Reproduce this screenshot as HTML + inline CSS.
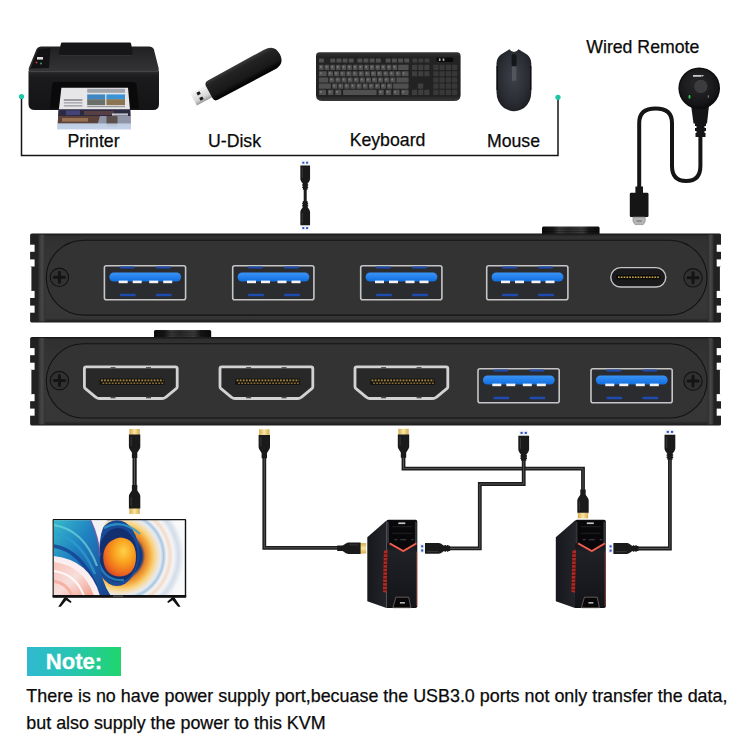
<!DOCTYPE html>
<html><head><meta charset="utf-8"><title>KVM switch connection diagram</title>
<style>
html,body{margin:0;padding:0;background:#fff;}
body{width:750px;height:750px;overflow:hidden;position:relative;font-family:"Liberation Sans",Arial,sans-serif;}
svg{position:absolute;left:0;top:0;display:block}
.lbl{font-family:"Liberation Sans",Arial,sans-serif;font-size:17.7px;fill:#0a0a0a;stroke:#0a0a0a;stroke-width:0.25px}
.note{position:absolute;left:26.5px;top:647.4px;width:94.6px;height:28.8px;background:linear-gradient(90deg,#2fb9d2 0%,#28c4b4 45%,#1fd56c 100%);color:#fff;font-weight:bold;font-size:22.1px;line-height:28.8px;}
.note span{position:absolute;left:19.2px;top:1.1px;-webkit-text-stroke:0.3px #fff}
.txt{position:absolute;left:26.3px;top:682.6px;font-size:17.9px;line-height:27.2px;color:#0a0a0a;-webkit-text-stroke:0.25px #0a0a0a;white-space:nowrap;margin:0}
</style></head><body>
<svg width="750" height="750" viewBox="0 0 750 750">
<defs>
<linearGradient id="gBody" x1="0" y1="0" x2="0" y2="1">
<stop offset="0" stop-color="#161616"/><stop offset="0.03" stop-color="#303030"/><stop offset="0.5" stop-color="#383838"/><stop offset="0.95" stop-color="#363636"/><stop offset="1" stop-color="#1a1a1a"/>
</linearGradient>
<linearGradient id="gBtn" x1="0" y1="0" x2="1" y2="0"><stop offset="0" stop-color="#0c0c0c"/><stop offset="0.18" stop-color="#161616"/><stop offset="0.3" stop-color="#3a3a3a"/><stop offset="0.45" stop-color="#2a2a2a"/><stop offset="0.7" stop-color="#3c3c3c"/><stop offset="0.82" stop-color="#161616"/><stop offset="1" stop-color="#0c0c0c"/></linearGradient>
<linearGradient id="gStripL" x1="0" y1="0" x2="1" y2="0">
<stop offset="0" stop-color="#2a2a2a"/><stop offset="0.5" stop-color="#4a4a4a"/><stop offset="1" stop-color="#303030"/>
</linearGradient>
<linearGradient id="gBlue" x1="0" y1="0" x2="0" y2="1">
<stop offset="0" stop-color="#3b93f5"/><stop offset="1" stop-color="#0f6fe0"/>
</linearGradient>
<linearGradient id="gGold" x1="0" y1="0" x2="1" y2="0">
<stop offset="0" stop-color="#d6ac4e"/><stop offset="0.5" stop-color="#f8e6a6"/><stop offset="1" stop-color="#d6ac4e"/>
</linearGradient>
<linearGradient id="gGoldV" x1="0" y1="0" x2="0" y2="1">
<stop offset="0" stop-color="#d6ac4e"/><stop offset="0.5" stop-color="#f8e6a6"/><stop offset="1" stop-color="#d6ac4e"/>
</linearGradient>
<!-- USB-A port (83 x 36) -->
<g id="usbport">
<rect x="0.7" y="0.7" width="81.2" height="34" rx="2" fill="#2b2c30" stroke="#c6c6c6" stroke-width="1.6"/>
<rect x="16" y="1.6" width="15" height="2" rx="1" fill="#1d4bb0"/>
<rect x="52" y="1.6" width="15" height="2" rx="1" fill="#1d4bb0"/>
<rect x="5.6" y="7.4" width="71.8" height="9.2" rx="4.6" fill="url(#gBlue)"/>
<rect x="15" y="15.6" width="9" height="2.6" fill="#f2f2f2"/>
<rect x="29" y="15.6" width="9" height="2.6" fill="#f2f2f2"/>
<rect x="45.5" y="15.6" width="9" height="2.6" fill="#f2f2f2"/>
<rect x="59.5" y="15.6" width="9" height="2.6" fill="#f2f2f2"/>
<rect x="16" y="28.8" width="16" height="2.4" rx="1" fill="#1d4bb0"/>
<rect x="52" y="28.8" width="16" height="2.4" rx="1" fill="#1d4bb0"/>
</g>
<!-- HDMI port (96 x 36) -->
<g id="hdmiport">
<path d="M3.2,1.4 H92.4 Q94.2,1.4 94.2,3.2 V21.2 Q94.2,22.4 93.2,23.2 L82.6,31.8 Q81.2,33 79.2,33 H16.4 Q14.4,33 13,31.8 L2.4,23.2 Q1.4,22.4 1.4,21.2 V3.2 Q1.4,1.4 3.2,1.4 Z" fill="#282828" stroke="#d2d2d2" stroke-width="2.8" stroke-linejoin="round"/>
<rect x="27.5" y="1.6" width="5" height="1.6" fill="#4a4a4a"/><rect x="63" y="1.6" width="5" height="1.6" fill="#4a4a4a"/>
<rect x="27.5" y="31.2" width="5" height="1.6" fill="#4a4a4a"/><rect x="63" y="31.2" width="5" height="1.6" fill="#4a4a4a"/>
<rect x="16.5" y="13" width="65" height="6.6" rx="1.5" fill="#141414"/>
<line x1="18" y1="14.8" x2="80.5" y2="14.8" stroke="#a8893a" stroke-width="1.7" stroke-dasharray="1.8 1.3"/>
<line x1="19.5" y1="17.7" x2="80.5" y2="17.7" stroke="#8a7030" stroke-width="1.5" stroke-dasharray="1.8 1.3"/>
</g>
<!-- screw -->
<g id="screw">
<circle r="9.2" fill="#313131" stroke="#121212" stroke-width="1.1"/>
<path d="M-5,0 H5 M0,-5 V5" stroke="#141414" stroke-width="3" stroke-linecap="round"/>
</g>
<!-- HDMI plug, vertical, tip up at y=0, centered x=0; total length ~28 -->
<g id="hdmiplug">
<rect x="-5.2" y="0" width="10.4" height="6.2" fill="url(#gGold)"/>
<path d="M-5.7,5.6 H5.7 V17.5 Q5.7,19 4.9,20.3 L2.7,23.6 V29 H-2.7 V23.6 L-4.9,20.3 Q-5.7,19 -5.7,17.5 Z" fill="#1a1a1a"/>
<path d="M-3.4,8 V17" stroke="#383838" stroke-width="1"/>
</g>
<!-- USB-A plug vertical, tip up -->
<g id="usbplug">
<rect x="-4.6" y="0" width="9.2" height="6" fill="#f1f3f7"/>
<rect x="-3.2" y="1.6" width="2.2" height="2" fill="#2a55c8"/><rect x="1" y="1.6" width="2.2" height="2" fill="#2a55c8"/>
<path d="M-5.4,5.4 H5.4 V19 Q5.4,20.4 4.6,21.6 L2.6,24.4 V30.5 H-2.6 V24.4 L-4.6,21.6 Q-5.4,20.4 -5.4,19 Z" fill="#1a1a1a"/>
<path d="M-3.3,25.6 H3.3 M-3.3,28 H3.3" stroke="#1a1a1a" stroke-width="1.5"/>
<path d="M-3.2,7.5 V18.5" stroke="#3a3a3a" stroke-width="1"/>
</g>
</defs>
<g id="bracket">
<path d="M21.5,97 V155.5 H558 V97.5" fill="none" stroke="#141414" stroke-width="1.5"/>
<circle cx="21.5" cy="96.5" r="2.6" fill="#1cc6a4"/><circle cx="558" cy="97.3" r="2.6" fill="#1cc6a4"/>
</g>
<g id="labels">
<text class="lbl" x="93.5" y="146.8" text-anchor="middle">Printer</text>
<text class="lbl" x="234.5" y="146.8" text-anchor="middle">U-Disk</text>
<text class="lbl" x="387.5" y="146.1" text-anchor="middle">Keyboard</text>
<text class="lbl" x="513.5" y="146.9" text-anchor="middle">Mouse</text>
<text class="lbl" x="642.8" y="52.8" text-anchor="middle">Wired Remote</text>
</g>
<g id="printer">
<defs>
<linearGradient id="prTop" x1="0" y1="0" x2="0" y2="1"><stop offset="0" stop-color="#202022"/><stop offset="1" stop-color="#353537"/></linearGradient>
<linearGradient id="prFront" x1="0" y1="0" x2="0" y2="1"><stop offset="0" stop-color="#2a2a2c"/><stop offset="0.15" stop-color="#1b1b1d"/><stop offset="1" stop-color="#141416"/></linearGradient>
<linearGradient id="prPhoto" x1="0" y1="0" x2="0" y2="1"><stop offset="0" stop-color="#26243c"/><stop offset="0.35" stop-color="#6a4a3e"/><stop offset="0.6" stop-color="#8d93a8"/><stop offset="1" stop-color="#c9d4e6"/></linearGradient>
</defs>
<!-- top surface -->
<path d="M41,46.5 Q38,46.5 36.6,49 L28.8,68 Q28,71.5 31,72 H156.5 Q159.5,71.5 158.6,68 L153.8,49 Q152.6,46.5 149.5,46.5 Z" fill="url(#prTop)"/>
<!-- lid -->
<path d="M62.5,42.6 H129.5 Q131,42.6 131.2,44 L132.6,53 Q132.8,55.2 130.5,55.2 H60.5 Q58.5,55.2 58.8,53 L60.8,44 Q61,42.6 62.5,42.6 Z" fill="#161618"/>
<path d="M60,55.6 H131.5" stroke="#3a3a3c" stroke-width="0.8"/>
<!-- control panel -->
<path d="M38.5,49 L50.5,48 L49,68 L30.5,68.5 Z" fill="#121214"/>
<rect x="37" y="57" width="6" height="2.6" fill="#d8d8d8"/>
<circle cx="36.5" cy="62.5" r="0.9" fill="#d04040"/><circle cx="41" cy="63.5" r="0.9" fill="#30b080"/>
<!-- front -->
<path d="M28.5,71 H159 V104 Q159,110 153,110 H35 Q28.5,110 28.5,104 Z" fill="url(#prFront)"/>
<path d="M29,71.6 H158.5" stroke="#48484b" stroke-width="1"/>
<!-- slot -->
<path d="M55,82 H133 Q136,82 136.5,85 L139,108.5 H50 L52,85 Q52.4,82 55,82 Z" fill="#0a0a0b"/>
<!-- paper 1 -->
<path d="M61.4,87.8 H128 L130,110 H58.8 Z" fill="#e6e6e9"/>
<rect x="87.2" y="88.8" width="37.8" height="4" fill="#8a8e96" opacity="0.75"/>
<rect x="87.2" y="94.4" width="18" height="5" fill="#3f86c4"/><rect x="87.2" y="99.2" width="18" height="6" fill="#6a6f6a"/>
<rect x="106.4" y="94.4" width="18.6" height="5" fill="#3a93d6"/><rect x="106.4" y="99.2" width="18.6" height="6" fill="#8a7452"/>
<rect x="87.2" y="106" width="37.8" height="1.2" fill="#9a9aa0"/>
<rect x="63.8" y="99.2" width="18.6" height="1.6" fill="#8a8a90"/><rect x="63.8" y="102.2" width="18.6" height="1.3" fill="#a0a0a6"/><rect x="63.8" y="105.2" width="18.6" height="1.3" fill="#9a9aa0"/>
<!-- paper 2 (photo) -->
<path d="M58.6,109.4 H130.2 L131,129.2 H57.2 Z" fill="url(#prPhoto)"/>
<path d="M58.6,109.4 H130.2 L130.5,116 H58.2 Z" fill="#2c2a40"/>
<rect x="66" y="110.5" width="14" height="4.5" fill="#5a5aa8" opacity="0.55"/>
<rect x="84" y="111" width="30" height="4" fill="#6a4a44" opacity="0.7"/>
<rect x="112" y="113.4" width="16" height="2.2" fill="#e8e8ee" opacity="0.8"/>
<path d="M58.2,116 H100 L98,123.5 H57.8 Z" fill="#5c4238"/>
<rect x="62" y="118" width="26" height="3.6" fill="#c89868" opacity="0.55"/>
<path d="M100,116 H130.5 L130.8,123.5 H98 Z" fill="#8f94a6"/>
<rect x="106.5" y="116" width="11" height="10.5" fill="#4a3a30" opacity="0.75"/>
<path d="M57.8,123.5 H130.8 L131,129.2 H57.2 Z" fill="#c3d2e8" opacity="0.9"/>
</g>
<g id="udisk" transform="translate(244.8,73) rotate(-28.4)">
<defs>
<linearGradient id="udBody" x1="0" y1="0" x2="0" y2="1"><stop offset="0" stop-color="#3c3c3c"/><stop offset="0.2" stop-color="#232323"/><stop offset="0.7" stop-color="#191919"/><stop offset="0.85" stop-color="#0a0a0a"/><stop offset="1" stop-color="#000"/></linearGradient>
<linearGradient id="udMetal" x1="0" y1="0" x2="0" y2="1"><stop offset="0" stop-color="#f6f6f6"/><stop offset="0.7" stop-color="#d6d6d6"/><stop offset="1" stop-color="#9a9a9a"/></linearGradient>
</defs>
<rect x="-57.6" y="-7.9" width="20" height="13.6" fill="url(#udMetal)"/>
<rect x="-52" y="-5.6" width="3.4" height="3" fill="#1a1a1a"/><rect x="-52" y="0.4" width="3.4" height="3" fill="#1a1a1a"/>
<path d="M-36,-11 L28,-11.4 Q39.8,-11.4 39.8,0 Q39.8,11.2 28,11.2 L-36,10.8 Q-40.4,10.8 -40.4,6.6 V-6.8 Q-40.4,-11 -36,-11 Z" fill="url(#udBody)"/>
</g>
<g id="keyboard">
<defs><linearGradient id="kbBody" x1="0" y1="0" x2="0" y2="1"><stop offset="0" stop-color="#343434"/><stop offset="0.1" stop-color="#232323"/><stop offset="0.9" stop-color="#222"/><stop offset="1" stop-color="#3a3a3a"/></linearGradient></defs>
<path d="M319.5,52.3 H457 Q460.6,52.3 460.6,56 V95 Q460.6,101 454,101 H322.5 Q316,101 316,95 V56 Q316,52.3 319.5,52.3 Z" fill="url(#kbBody)"/>
<rect x="319.0" y="58.4" width="4.9" height="4.1" rx="0.6" fill="#505050"/>
<rect x="330.3" y="58.4" width="4.9" height="4.1" rx="0.6" fill="#505050"/>
<rect x="336.5" y="58.4" width="4.9" height="4.1" rx="0.6" fill="#505050"/>
<rect x="342.6" y="58.4" width="4.9" height="4.1" rx="0.6" fill="#505050"/>
<rect x="348.8" y="58.4" width="4.9" height="4.1" rx="0.6" fill="#505050"/>
<rect x="357.4" y="58.4" width="4.9" height="4.1" rx="0.6" fill="#505050"/>
<rect x="363.5" y="58.4" width="4.9" height="4.1" rx="0.6" fill="#505050"/>
<rect x="369.7" y="58.4" width="4.9" height="4.1" rx="0.6" fill="#505050"/>
<rect x="375.9" y="58.4" width="4.9" height="4.1" rx="0.6" fill="#505050"/>
<rect x="385.7" y="58.4" width="4.9" height="4.1" rx="0.6" fill="#505050"/>
<rect x="391.9" y="58.4" width="4.9" height="4.1" rx="0.6" fill="#505050"/>
<rect x="398.1" y="58.4" width="4.9" height="4.1" rx="0.6" fill="#505050"/>
<rect x="404.3" y="58.4" width="4.9" height="4.1" rx="0.6" fill="#505050"/>
<rect x="412.4" y="58.4" width="4.8" height="4.1" rx="0.6" fill="#3e3e3e"/>
<rect x="418.5" y="58.4" width="4.8" height="4.1" rx="0.6" fill="#3e3e3e"/>
<rect x="424.6" y="58.4" width="4.8" height="4.1" rx="0.6" fill="#3e3e3e"/>
<rect x="319.0" y="64.8" width="4.6" height="5.1" rx="0.6" fill="#505050"/>
<rect x="324.6" y="64.8" width="4.6" height="5.1" rx="0.6" fill="#505050"/>
<rect x="330.3" y="64.8" width="4.6" height="5.1" rx="0.6" fill="#505050"/>
<rect x="335.9" y="64.8" width="4.6" height="5.1" rx="0.6" fill="#505050"/>
<rect x="341.6" y="64.8" width="4.6" height="5.1" rx="0.6" fill="#505050"/>
<rect x="347.2" y="64.8" width="4.6" height="5.1" rx="0.6" fill="#505050"/>
<rect x="352.9" y="64.8" width="4.6" height="5.1" rx="0.6" fill="#505050"/>
<rect x="358.5" y="64.8" width="4.6" height="5.1" rx="0.6" fill="#505050"/>
<rect x="364.2" y="64.8" width="4.6" height="5.1" rx="0.6" fill="#505050"/>
<rect x="369.8" y="64.8" width="4.6" height="5.1" rx="0.6" fill="#505050"/>
<rect x="375.5" y="64.8" width="4.6" height="5.1" rx="0.6" fill="#505050"/>
<rect x="381.1" y="64.8" width="4.6" height="5.1" rx="0.6" fill="#505050"/>
<rect x="386.8" y="64.8" width="4.6" height="5.1" rx="0.6" fill="#505050"/>
<rect x="392.5" y="64.8" width="4.6" height="5.1" rx="0.6" fill="#505050"/>
<rect x="398.1" y="64.8" width="10.5" height="5.1" rx="0.6" fill="#505050"/>
<rect x="319.0" y="71.2" width="7.7" height="5.1" rx="0.6" fill="#505050"/>
<rect x="327.9" y="71.2" width="5.1" height="5.1" rx="0.6" fill="#505050"/>
<rect x="334.1" y="71.2" width="5.1" height="5.1" rx="0.6" fill="#505050"/>
<rect x="340.2" y="71.2" width="5.1" height="5.1" rx="0.6" fill="#505050"/>
<rect x="346.4" y="71.2" width="5.1" height="5.1" rx="0.6" fill="#505050"/>
<rect x="352.5" y="71.2" width="5.1" height="5.1" rx="0.6" fill="#505050"/>
<rect x="358.7" y="71.2" width="5.1" height="5.1" rx="0.6" fill="#505050"/>
<rect x="364.8" y="71.2" width="5.1" height="5.1" rx="0.6" fill="#505050"/>
<rect x="371.0" y="71.2" width="5.1" height="5.1" rx="0.6" fill="#505050"/>
<rect x="377.1" y="71.2" width="5.1" height="5.1" rx="0.6" fill="#505050"/>
<rect x="383.3" y="71.2" width="5.1" height="5.1" rx="0.6" fill="#505050"/>
<rect x="389.4" y="71.2" width="5.1" height="5.1" rx="0.6" fill="#505050"/>
<rect x="395.6" y="71.2" width="5.1" height="5.1" rx="0.6" fill="#505050"/>
<rect x="401.7" y="71.2" width="6.8" height="5.1" rx="0.6" fill="#505050"/>
<rect x="319.0" y="77.4" width="9.2" height="5.1" rx="0.6" fill="#505050"/>
<rect x="329.4" y="77.4" width="5.0" height="5.1" rx="0.6" fill="#505050"/>
<rect x="335.5" y="77.4" width="5.0" height="5.1" rx="0.6" fill="#505050"/>
<rect x="341.6" y="77.4" width="5.0" height="5.1" rx="0.6" fill="#505050"/>
<rect x="347.7" y="77.4" width="5.0" height="5.1" rx="0.6" fill="#505050"/>
<rect x="353.8" y="77.4" width="5.0" height="5.1" rx="0.6" fill="#505050"/>
<rect x="359.9" y="77.4" width="5.0" height="5.1" rx="0.6" fill="#505050"/>
<rect x="366.0" y="77.4" width="5.0" height="5.1" rx="0.6" fill="#505050"/>
<rect x="372.0" y="77.4" width="5.0" height="5.1" rx="0.6" fill="#505050"/>
<rect x="378.1" y="77.4" width="5.0" height="5.1" rx="0.6" fill="#505050"/>
<rect x="384.2" y="77.4" width="5.0" height="5.1" rx="0.6" fill="#505050"/>
<rect x="390.3" y="77.4" width="5.0" height="5.1" rx="0.6" fill="#505050"/>
<rect x="396.4" y="77.4" width="12.2" height="5.1" rx="0.6" fill="#505050"/>
<rect x="319.0" y="83.6" width="11.9" height="5.1" rx="0.6" fill="#505050"/>
<rect x="332.2" y="83.6" width="5.0" height="5.1" rx="0.6" fill="#505050"/>
<rect x="338.3" y="83.6" width="5.0" height="5.1" rx="0.6" fill="#505050"/>
<rect x="344.4" y="83.6" width="5.0" height="5.1" rx="0.6" fill="#505050"/>
<rect x="350.5" y="83.6" width="5.0" height="5.1" rx="0.6" fill="#505050"/>
<rect x="356.6" y="83.6" width="5.0" height="5.1" rx="0.6" fill="#505050"/>
<rect x="362.7" y="83.6" width="5.0" height="5.1" rx="0.6" fill="#505050"/>
<rect x="368.8" y="83.6" width="5.0" height="5.1" rx="0.6" fill="#505050"/>
<rect x="374.9" y="83.6" width="5.0" height="5.1" rx="0.6" fill="#505050"/>
<rect x="381.0" y="83.6" width="5.0" height="5.1" rx="0.6" fill="#505050"/>
<rect x="387.1" y="83.6" width="5.0" height="5.1" rx="0.6" fill="#505050"/>
<rect x="393.2" y="83.6" width="15.4" height="5.1" rx="0.6" fill="#505050"/>
<rect x="319.0" y="89.8" width="7.0" height="5.1" rx="0.6" fill="#505050"/>
<rect x="327.9" y="89.8" width="5.5" height="5.1" rx="0.6" fill="#505050"/>
<rect x="335.2" y="89.8" width="6.0" height="5.1" rx="0.6" fill="#505050"/>
<rect x="343.1" y="89.8" width="33.5" height="5.1" rx="0.6" fill="#505050"/>
<rect x="378.5" y="89.8" width="5.3" height="5.1" rx="0.6" fill="#505050"/>
<rect x="385.7" y="89.8" width="5.5" height="5.1" rx="0.6" fill="#505050"/>
<rect x="393.2" y="89.8" width="6.4" height="5.1" rx="0.6" fill="#505050"/>
<rect x="401.3" y="89.8" width="7.3" height="5.1" rx="0.6" fill="#505050"/>
<rect x="412.0" y="64.8" width="5.1" height="5.1" rx="0.6" fill="#3e3e3e"/>
<rect x="418.2" y="64.8" width="5.1" height="5.1" rx="0.6" fill="#3e3e3e"/>
<rect x="424.3" y="64.8" width="5.1" height="5.1" rx="0.6" fill="#3e3e3e"/>
<rect x="412.0" y="71.2" width="5.1" height="5.1" rx="0.6" fill="#3e3e3e"/>
<rect x="418.2" y="71.2" width="5.1" height="5.1" rx="0.6" fill="#3e3e3e"/>
<rect x="424.3" y="71.2" width="5.1" height="5.1" rx="0.6" fill="#3e3e3e"/>
<rect x="417.9" y="83.6" width="5.3" height="5.1" rx="0.6" fill="#3e3e3e"/>
<rect x="412.0" y="89.8" width="5.1" height="5.1" rx="0.6" fill="#3e3e3e"/>
<rect x="418.2" y="89.8" width="5.1" height="5.1" rx="0.6" fill="#3e3e3e"/>
<rect x="424.3" y="89.8" width="5.1" height="5.1" rx="0.6" fill="#3e3e3e"/>
<rect x="433.3" y="64.8" width="5.2" height="5.1" rx="0.6" fill="#383838"/>
<rect x="439.5" y="64.8" width="5.2" height="5.1" rx="0.6" fill="#383838"/>
<rect x="445.8" y="64.8" width="5.2" height="5.1" rx="0.6" fill="#383838"/>
<rect x="452.0" y="64.8" width="5.2" height="5.1" rx="0.6" fill="#383838"/>
<rect x="433.3" y="71.2" width="5.2" height="5.1" rx="0.6" fill="#383838"/>
<rect x="439.5" y="71.2" width="5.2" height="5.1" rx="0.6" fill="#383838"/>
<rect x="445.8" y="71.2" width="5.2" height="5.1" rx="0.6" fill="#383838"/>
<rect x="452.0" y="71.2" width="5.2" height="5.1" rx="0.6" fill="#383838"/>
<rect x="433.3" y="77.4" width="5.2" height="5.1" rx="0.6" fill="#383838"/>
<rect x="439.5" y="77.4" width="5.2" height="5.1" rx="0.6" fill="#383838"/>
<rect x="445.8" y="77.4" width="5.2" height="5.1" rx="0.6" fill="#383838"/>
<rect x="452.0" y="77.4" width="5.2" height="5.1" rx="0.6" fill="#383838"/>
<rect x="433.3" y="83.6" width="5.2" height="5.1" rx="0.6" fill="#383838"/>
<rect x="439.5" y="83.6" width="5.2" height="5.1" rx="0.6" fill="#383838"/>
<rect x="445.8" y="83.6" width="5.2" height="5.1" rx="0.6" fill="#383838"/>
<rect x="452.0" y="83.6" width="5.2" height="5.1" rx="0.6" fill="#383838"/>
<rect x="433.3" y="89.8" width="5.2" height="5.1" rx="0.6" fill="#383838"/>
<rect x="439.5" y="89.8" width="5.2" height="5.1" rx="0.6" fill="#383838"/>
<rect x="445.8" y="89.8" width="5.2" height="5.1" rx="0.6" fill="#383838"/>
<rect x="452.0" y="89.8" width="5.2" height="5.1" rx="0.6" fill="#383838"/>
<rect x="436.5" y="57.4" width="16.6" height="4.7" rx="1" fill="#0a0a0a"/>
<rect x="438.9" y="58.4" width="1.6" height="2.6" fill="#aaa"/><rect x="442.7" y="58.4" width="1.6" height="2.6" fill="#aaa"/>
<g id="legend"><rect x="320.1" y="66.0" width="1.6" height="1.8" fill="#a0a0a0" opacity="0.55"/><rect x="325.7" y="66.0" width="1.6" height="1.8" fill="#a0a0a0" opacity="0.55"/><rect x="331.4" y="66.0" width="1.6" height="1.8" fill="#a0a0a0" opacity="0.55"/><rect x="337.0" y="66.0" width="1.6" height="1.8" fill="#a0a0a0" opacity="0.55"/><rect x="342.7" y="66.0" width="1.6" height="1.8" fill="#a0a0a0" opacity="0.55"/><rect x="348.3" y="66.0" width="1.6" height="1.8" fill="#a0a0a0" opacity="0.55"/><rect x="354.0" y="66.0" width="1.6" height="1.8" fill="#a0a0a0" opacity="0.55"/><rect x="359.6" y="66.0" width="1.6" height="1.8" fill="#a0a0a0" opacity="0.55"/><rect x="365.3" y="66.0" width="1.6" height="1.8" fill="#a0a0a0" opacity="0.55"/><rect x="370.9" y="66.0" width="1.6" height="1.8" fill="#a0a0a0" opacity="0.55"/><rect x="376.6" y="66.0" width="1.6" height="1.8" fill="#a0a0a0" opacity="0.55"/><rect x="382.2" y="66.0" width="1.6" height="1.8" fill="#a0a0a0" opacity="0.55"/><rect x="387.9" y="66.0" width="1.6" height="1.8" fill="#a0a0a0" opacity="0.55"/><rect x="393.6" y="66.0" width="1.6" height="1.8" fill="#a0a0a0" opacity="0.55"/><rect x="320.1" y="72.4" width="1.6" height="1.8" fill="#a0a0a0" opacity="0.55"/><rect x="329.0" y="72.4" width="1.6" height="1.8" fill="#a0a0a0" opacity="0.55"/><rect x="335.2" y="72.4" width="1.6" height="1.8" fill="#a0a0a0" opacity="0.55"/><rect x="341.3" y="72.4" width="1.6" height="1.8" fill="#a0a0a0" opacity="0.55"/><rect x="347.5" y="72.4" width="1.6" height="1.8" fill="#a0a0a0" opacity="0.55"/><rect x="353.6" y="72.4" width="1.6" height="1.8" fill="#a0a0a0" opacity="0.55"/><rect x="359.8" y="72.4" width="1.6" height="1.8" fill="#a0a0a0" opacity="0.55"/><rect x="365.9" y="72.4" width="1.6" height="1.8" fill="#a0a0a0" opacity="0.55"/><rect x="372.1" y="72.4" width="1.6" height="1.8" fill="#a0a0a0" opacity="0.55"/><rect x="378.2" y="72.4" width="1.6" height="1.8" fill="#a0a0a0" opacity="0.55"/><rect x="384.4" y="72.4" width="1.6" height="1.8" fill="#a0a0a0" opacity="0.55"/><rect x="390.5" y="72.4" width="1.6" height="1.8" fill="#a0a0a0" opacity="0.55"/><rect x="396.7" y="72.4" width="1.6" height="1.8" fill="#a0a0a0" opacity="0.55"/><rect x="402.8" y="72.4" width="1.6" height="1.8" fill="#a0a0a0" opacity="0.55"/><rect x="330.5" y="78.6" width="1.6" height="1.8" fill="#a0a0a0" opacity="0.55"/><rect x="336.6" y="78.6" width="1.6" height="1.8" fill="#a0a0a0" opacity="0.55"/><rect x="342.7" y="78.6" width="1.6" height="1.8" fill="#a0a0a0" opacity="0.55"/><rect x="348.8" y="78.6" width="1.6" height="1.8" fill="#a0a0a0" opacity="0.55"/><rect x="354.9" y="78.6" width="1.6" height="1.8" fill="#a0a0a0" opacity="0.55"/><rect x="361.0" y="78.6" width="1.6" height="1.8" fill="#a0a0a0" opacity="0.55"/><rect x="367.1" y="78.6" width="1.6" height="1.8" fill="#a0a0a0" opacity="0.55"/><rect x="373.1" y="78.6" width="1.6" height="1.8" fill="#a0a0a0" opacity="0.55"/><rect x="379.2" y="78.6" width="1.6" height="1.8" fill="#a0a0a0" opacity="0.55"/><rect x="385.3" y="78.6" width="1.6" height="1.8" fill="#a0a0a0" opacity="0.55"/><rect x="391.4" y="78.6" width="1.6" height="1.8" fill="#a0a0a0" opacity="0.55"/><rect x="333.3" y="84.8" width="1.6" height="1.8" fill="#a0a0a0" opacity="0.55"/><rect x="339.4" y="84.8" width="1.6" height="1.8" fill="#a0a0a0" opacity="0.55"/><rect x="345.5" y="84.8" width="1.6" height="1.8" fill="#a0a0a0" opacity="0.55"/><rect x="351.6" y="84.8" width="1.6" height="1.8" fill="#a0a0a0" opacity="0.55"/><rect x="357.7" y="84.8" width="1.6" height="1.8" fill="#a0a0a0" opacity="0.55"/><rect x="363.8" y="84.8" width="1.6" height="1.8" fill="#a0a0a0" opacity="0.55"/><rect x="369.9" y="84.8" width="1.6" height="1.8" fill="#a0a0a0" opacity="0.55"/><rect x="376.0" y="84.8" width="1.6" height="1.8" fill="#a0a0a0" opacity="0.55"/><rect x="382.1" y="84.8" width="1.6" height="1.8" fill="#a0a0a0" opacity="0.55"/><rect x="388.2" y="84.8" width="1.6" height="1.8" fill="#a0a0a0" opacity="0.55"/><rect x="320.1" y="91.0" width="1.6" height="1.8" fill="#a0a0a0" opacity="0.55"/><rect x="329.0" y="91.0" width="1.6" height="1.8" fill="#a0a0a0" opacity="0.55"/><rect x="336.3" y="91.0" width="1.6" height="1.8" fill="#a0a0a0" opacity="0.55"/><rect x="379.6" y="91.0" width="1.6" height="1.8" fill="#a0a0a0" opacity="0.55"/><rect x="386.8" y="91.0" width="1.6" height="1.8" fill="#a0a0a0" opacity="0.55"/><rect x="394.3" y="91.0" width="1.6" height="1.8" fill="#a0a0a0" opacity="0.55"/><rect x="402.4" y="91.0" width="1.6" height="1.8" fill="#a0a0a0" opacity="0.55"/></g>
</g>
<g id="mouse">
<defs>
<radialGradient id="msBody" cx="0.5" cy="0.45" r="0.6"><stop offset="0" stop-color="#3e414a"/><stop offset="0.7" stop-color="#2a2c33"/><stop offset="1" stop-color="#1c1d22"/></radialGradient>
</defs>
<path d="M509.5,49.3 Q511,52 514,52 Q517,52 518.5,49.3 L527,54.5 Q531,57.5 531.3,63 V92 Q531.3,102 524,108 Q518,111.3 514,111.3 Q510,111.3 504,108 Q496.5,102 496.5,92 V63 Q496.8,57.5 501,54.5 Z" fill="url(#msBody)"/>
<path d="M497.2,66 V90 M530.7,66 V90" stroke="#0e0e10" stroke-width="1.4"/>
<rect x="511.6" y="54" width="5" height="12.5" rx="2.2" fill="#15161a"/>
<rect x="512" y="66.4" width="4.4" height="14.4" fill="#52555d"/>
</g>
<g id="remote">
<defs>
<radialGradient id="rmTop" cx="0.45" cy="0.4" r="0.65"><stop offset="0" stop-color="#2a2a2c"/><stop offset="0.8" stop-color="#151517"/><stop offset="1" stop-color="#0a0a0a"/></radialGradient>
</defs>
<!-- cable -->
<path d="M700.4,134 V166 Q700.4,181 686.2,181 Q672,181 672,166 V123 Q672,108.6 655.6,108.6 Q639.2,108.6 639.2,123 V192" fill="none" stroke="#151515" stroke-width="4" stroke-linecap="butt"/>
<!-- plug -->
<path d="M635.4,186.5 H643 V192.7 H647.2 Q648.5,192.7 648.5,194 V215.8 Q648.5,217.1 647.2,217.1 H631.1 Q629.8,217.1 629.8,215.8 V194 Q629.8,192.7 631.1,192.7 H635.4 Z" fill="#151515"/>
<path d="M633,217.1 H645.2 V221.5 L643.2,224.6 H635 L633,221.5 Z" fill="#b4b4b4" stroke="#8a8a8a" stroke-width="0.7"/>
<path d="M636.5,221 H641.8" stroke="#6a6a6a" stroke-width="1"/>
<!-- neck + strain relief -->
<path d="M690.5,101 L709.5,101 L707,123.5 H693.5 Z" fill="#151517"/>
<path d="M695,123 H706 V126 H704.5 V128 H706 V131 H704.5 V133 H705.5 V137 H695.5 V133 H696.5 V131 H695 V128 H696.5 V126 H695 Z" fill="#151517"/>
<!-- head -->
<circle cx="699.2" cy="88.2" r="20.8" fill="#0c0c0d"/>
<circle cx="699.2" cy="88.2" r="19.4" fill="url(#rmTop)"/>
<circle cx="700.8" cy="86.4" r="7.2" fill="#3c3c3f"/>
<circle cx="700.8" cy="86.4" r="7.2" fill="none" stroke="#1c1c1e" stroke-width="0.8"/>
<rect x="688.6" y="95" width="1.8" height="3.6" rx="0.9" fill="#35d05a"/>
<rect x="707.8" y="95.2" width="1" height="2.6" fill="#888"/>
<rect x="693" y="75" width="8" height="1.8" fill="#c8c8c8"/><path d="M701.5,74.8 l2.6,1 l-2.6,1 z" fill="#e8e8e8"/>
</g>
<g id="device1">
<path d="M543.5,226.4 H598.1 Q599.6,226.4 599.6,227.9 V234.6 H542 V227.9 Q542,226.4 543.5,226.4 Z" fill="url(#gBtn)"/>
<rect x="543" y="228.6" width="55.60000000000002" height="0.8" fill="#000" opacity="0.35"/>
<rect x="543" y="231.0" width="55.60000000000002" height="0.8" fill="#000" opacity="0.35"/>
<rect x="30.3" y="233.6" width="690.7" height="88.9" rx="1.5" fill="url(#gBody)"/>
<rect x="38.3" y="234.6" width="7" height="86.9" fill="url(#gStripL)" opacity="0.9"/>
<rect x="707.5" y="234.6" width="6" height="86.9" fill="url(#gStripL)" opacity="0.9"/>
<rect x="30.3" y="234.6" width="8" height="86.9" fill="#212121"/>
<rect x="713.5" y="234.6" width="7.5" height="86.9" fill="#212121"/>
<rect x="29.8" y="244.7" width="4.8" height="7.1" fill="#fff"/>
<rect x="716.7" y="244.7" width="4.8" height="7.1" fill="#fff"/>
<rect x="29.8" y="259.4" width="4.8" height="7.1" fill="#fff"/>
<rect x="716.7" y="259.4" width="4.8" height="7.1" fill="#fff"/>
<rect x="29.8" y="290.9" width="4.8" height="7.1" fill="#fff"/>
<rect x="716.7" y="290.9" width="4.8" height="7.1" fill="#fff"/>
<rect x="29.8" y="305.6" width="4.8" height="7.1" fill="#fff"/>
<rect x="716.7" y="305.6" width="4.8" height="7.1" fill="#fff"/>
<rect x="29.8" y="266.5" width="1.6" height="24.4" fill="#fff"/>
<rect x="719.9" y="266.5" width="1.6" height="24.4" fill="#fff"/>
<rect x="46.3" y="240.2" width="660.7" height="74.9" rx="37.5" fill="#333" stroke="#131313" stroke-width="1.1"/>
<use href="#screw" x="59.4" y="277.3"/>
<use href="#screw" x="693" y="277.8"/>
</g>
<use href="#usbport" x="103.7" y="265"/>
<use href="#usbport" x="232" y="265"/>
<use href="#usbport" x="360" y="265"/>
<use href="#usbport" x="486" y="265"/>
<g id="usbc">
<rect x="610.8" y="267.6" width="55" height="19.4" rx="9.7" fill="#1a1a1c" stroke="#c4c4c4" stroke-width="1.4"/>
<rect x="616" y="275" width="44.6" height="4.6" rx="2.3" fill="#0a0a0a"/>
<line x1="618" y1="277.3" x2="659" y2="277.3" stroke="#c9a545" stroke-width="1.6" stroke-dasharray="1.7 1.1"/>
</g>
<g id="device2">
<path d="M155.5,329.90000000000003 H209.7 Q211.2,329.90000000000003 211.2,331.40000000000003 V338.1 H154 V331.40000000000003 Q154,329.90000000000003 155.5,329.90000000000003 Z" fill="url(#gBtn)"/>
<rect x="155" y="332.1" width="55.19999999999999" height="0.8" fill="#000" opacity="0.35"/>
<rect x="155" y="334.50000000000006" width="55.19999999999999" height="0.8" fill="#000" opacity="0.35"/>
<rect x="30.3" y="337.1" width="690.7" height="88.29999999999995" rx="1.5" fill="url(#gBody)"/>
<rect x="38.3" y="338.1" width="7" height="86.29999999999995" fill="url(#gStripL)" opacity="0.9"/>
<rect x="707.5" y="338.1" width="6" height="86.29999999999995" fill="url(#gStripL)" opacity="0.9"/>
<rect x="30.3" y="338.1" width="8" height="86.29999999999995" fill="#212121"/>
<rect x="713.5" y="338.1" width="7.5" height="86.29999999999995" fill="#212121"/>
<rect x="29.8" y="348.1" width="4.8" height="7.1" fill="#fff"/>
<rect x="716.7" y="348.1" width="4.8" height="7.1" fill="#fff"/>
<rect x="29.8" y="362.7" width="4.8" height="7.1" fill="#fff"/>
<rect x="716.7" y="362.7" width="4.8" height="7.1" fill="#fff"/>
<rect x="29.8" y="394.1" width="4.8" height="7.1" fill="#fff"/>
<rect x="716.7" y="394.1" width="4.8" height="7.1" fill="#fff"/>
<rect x="29.8" y="408.6" width="4.8" height="7.1" fill="#fff"/>
<rect x="716.7" y="408.6" width="4.8" height="7.1" fill="#fff"/>
<rect x="29.8" y="369.8" width="1.6" height="24.3" fill="#fff"/>
<rect x="719.9" y="369.8" width="1.6" height="24.3" fill="#fff"/>
<rect x="46.3" y="343.7" width="660.7" height="74.3" rx="37.1" fill="#333" stroke="#131313" stroke-width="1.1"/>
<use href="#screw" x="59.4" y="380.6"/>
<use href="#screw" x="693" y="381.1"/>
</g>
<use href="#hdmiport" x="83" y="365.5"/>
<use href="#hdmiport" x="218.6" y="365.5"/>
<use href="#hdmiport" x="353.6" y="365.5"/>
<use href="#usbport" x="477.3" y="368"/>
<use href="#usbport" x="590.3" y="368"/>
<g id="cables">
<!-- short USB cable between bracket and device 1 -->
<g id="usbshort">
<rect x="303.7" y="180" width="3" height="30" fill="#1c1c1c"/>
<use href="#usbplug" transform="translate(305.2,160.2) scale(0.9,0.97)"/>
<use href="#usbplug" transform="translate(305.2,230.6) scale(0.9,-0.97)"/>
</g>
<!-- HDMI to TV -->
<g id="hdmitv">
<rect x="132.5" y="450" width="4.2" height="44" fill="#1c1c1c"/>
<rect x="134" y="452" width="1" height="40" fill="#555"/>
<use href="#hdmiplug" x="134.6" y="429"/>
<use href="#hdmiplug" transform="translate(134.6,514) scale(1,-1)"/>
</g>
<!-- HDMI 2 -> PC1 -->
<g id="hdmi2">
<path d="M264.3,452 V547.8 H340" fill="none" stroke="#1c1c1c" stroke-width="3.8" stroke-linejoin="miter"/>
<path d="M264.3,452 V547.8 H340" fill="none" stroke="#5a5a5a" stroke-width="0.9"/>
<use href="#hdmiplug" x="264.3" y="429.3"/>
<use href="#hdmiplug" transform="translate(366.2,548.3) rotate(90)"/>
</g>
<!-- HDMI 3 -> PC2 -->
<g id="hdmi3">
<path d="M403.5,452 V468.6 H583 V492" fill="none" stroke="#1c1c1c" stroke-width="3.8"/>
<path d="M403.5,452 V468.6 H583 V492" fill="none" stroke="#5a5a5a" stroke-width="0.9"/>
<use href="#hdmiplug" x="403.5" y="428.8"/>
<use href="#hdmiplug" transform="translate(583,518.4) scale(1,-1)"/>
</g>
<!-- USB 1 -> PC1 -->
<g id="usb1">
<path d="M523.7,458 V484 H479.8 V548.4 H448" fill="none" stroke="#1c1c1c" stroke-width="3.8"/>
<path d="M523.7,458 V484 H479.8 V548.4 H448" fill="none" stroke="#5a5a5a" stroke-width="0.9"/>
<use href="#usbplug" x="523.7" y="430.3"/>
<use href="#usbplug" transform="translate(419.6,548.4) rotate(-90)"/>
</g>
<!-- USB 2 -> PC2 -->
<g id="usb2">
<path d="M669.9,458 V548.5 H636" fill="none" stroke="#1c1c1c" stroke-width="3.8"/>
<path d="M669.9,458 V548.5 H636" fill="none" stroke="#5a5a5a" stroke-width="0.9"/>
<use href="#usbplug" x="669.9" y="429.3"/>
<use href="#usbplug" transform="translate(608,548.5) rotate(-90)"/>
</g>
</g>
<g id="tv">
<defs>
<clipPath id="tvclip"><rect x="53.8" y="520.2" width="131" height="74.8"/></clipPath>
<radialGradient id="tvOrange" cx="0.62" cy="0.35" r="0.75"><stop offset="0" stop-color="#ffd04a"/><stop offset="0.4" stop-color="#f9a11e"/><stop offset="0.75" stop-color="#ee6a1e"/><stop offset="1" stop-color="#c63a2e"/></radialGradient>
<radialGradient id="tvRings" cx="121" cy="556" r="70" gradientUnits="userSpaceOnUse">
<stop offset="0.30" stop-color="#153a80"/><stop offset="0.345" stop-color="#e07f2a"/><stop offset="0.41" stop-color="#f5a93e"/><stop offset="0.47" stop-color="#f8d27a"/><stop offset="0.53" stop-color="#f3e2c8"/><stop offset="0.57" stop-color="#e3ebf3"/><stop offset="0.61" stop-color="#a9c6e0"/><stop offset="0.65" stop-color="#f3f4f7"/><stop offset="0.70" stop-color="#f2dcc8"/><stop offset="0.75" stop-color="#f4f5f8"/><stop offset="0.82" stop-color="#d3dce8"/><stop offset="0.9" stop-color="#f7f8fa"/><stop offset="1" stop-color="#fbfbfc"/>
</radialGradient>
<linearGradient id="tvBlue" x1="0" y1="0" x2="1" y2="1"><stop offset="0" stop-color="#35b9cc"/><stop offset="0.4" stop-color="#1f7fc0"/><stop offset="1" stop-color="#183f8c"/></linearGradient>
<linearGradient id="tvPink" x1="0" y1="0" x2="1" y2="1"><stop offset="0" stop-color="#f9c3ba"/><stop offset="0.5" stop-color="#f7dedb"/><stop offset="1" stop-color="#f29a88"/></linearGradient>
</defs>
<rect x="52.6" y="519" width="133.6" height="78.6" rx="1" fill="#111"/>
<g clip-path="url(#tvclip)">
<rect x="53" y="520" width="133" height="76" fill="url(#tvRings)"/>
<!-- blue ring (thicker at top) -->
<ellipse cx="117" cy="553" rx="22" ry="33" fill="#1a4a96"/>
<ellipse cx="118" cy="555" rx="19.5" ry="27" fill="#123070"/>
<path d="M104,528 Q122,518 140,534" fill="none" stroke="#2f9fcf" stroke-width="2.2" opacity="0.8"/>
<path d="M98,560 Q104,582 124,580" fill="none" stroke="#2a8cc0" stroke-width="2.4" opacity="0.8"/>
<!-- white wedge at top -->
<path d="M90,520 H107 Q99,532 99.5,552 Q96,534 90,520 Z" fill="#f2f2f5"/>
<!-- blue swoosh from top-left to bottom-center -->
<path d="M53.8,520 H91 Q101,542 100,562 Q101,582 111,596 H97 Q90,570 53.8,560 Z" fill="url(#tvBlue)"/>
<path d="M53.8,525 Q84,530 97,566" fill="none" stroke="#6fd6dc" stroke-width="2.2" opacity="0.7"/>
<path d="M53.8,533 Q80,538 95,574" fill="none" stroke="#2c9fd0" stroke-width="2.5" opacity="0.7"/>
<path d="M53.8,546 Q80,550 96,586" fill="none" stroke="#143a8c" stroke-width="3.4" opacity="0.75"/>
<path d="M90.5,520 Q99,538 100,556" fill="none" stroke="#8a4fa8" stroke-width="1.4" opacity="0.75"/>
<!-- pink swoosh bottom-left -->
<path d="M53.8,556 Q90,560 100,596 H53.8 Z" fill="#fbeeee"/>
<path d="M53.8,562 Q84,566 94,596 H53.8 Z" fill="url(#tvPink)"/>
<path d="M53.8,571 Q76,574 84,596" fill="none" stroke="#fff" stroke-width="2.2" opacity="0.85"/>
<path d="M53.8,581 Q68,584 72,596" fill="none" stroke="#f6a898" stroke-width="3" opacity="0.8"/>
<!-- orange ball -->
<path d="M120,537.4 Q135.5,538 136,556 Q136,575.5 120,576.6 Q104,576 103.2,558 Q103,541 120,537.4 Z" fill="url(#tvOrange)"/>
</g>
<rect x="52.6" y="595" width="133.6" height="2.6" fill="#111"/>
<rect x="113" y="595.6" width="10" height="1" fill="#666"/>
<!-- feet -->
<path d="M64.5,597.3 L58.2,606.8 H60.8 L66.2,600.2 L70.6,603 L71.6,601.8 L66.6,597.3 Z" fill="#111"/>
<path d="M174.3,597.3 L180.6,606.8 H178 L172.6,600.2 L168.2,603 L167.2,601.8 L172.2,597.3 Z" fill="#111"/>
</g>
<defs>
<g id="pc">
<!-- local coords: origin at left x=0, top y=0; width 50, height 88.3 -->
<linearGradient id="pcSide" x1="0" y1="0" x2="1" y2="0"><stop offset="0" stop-color="#17181c"/><stop offset="1" stop-color="#22242a"/></linearGradient>
<linearGradient id="pcFront" x1="0" y1="0" x2="0" y2="1"><stop offset="0" stop-color="#101012"/><stop offset="0.3" stop-color="#17181c"/><stop offset="0.36" stop-color="#202127"/><stop offset="1" stop-color="#131418"/></linearGradient>
<path d="M0,17.5 L19.2,0.6 V88.3 L0,81.5 Z" fill="url(#pcSide)"/>
<path d="M19.2,1.5 Q19.2,0 21,0 H48.2 Q50,0 50,1.8 V86.5 Q50,88.3 48.2,88.3 H19.2 Z" fill="url(#pcFront)"/>
<!-- glossy top -->
<path d="M21,1 H48.6 V23.8 L36,31 L22.2,23.8 Z" fill="#08080a"/>
<path d="M19.6,2 H21.6 V23.5 H19.6 Z M47.6,2 H49.6 V23.5 H47.6 Z" fill="#34353a"/>
<rect x="25" y="6.5" width="20" height="0.9" fill="#26262a"/>
<rect x="25" y="13" width="20" height="0.8" fill="#26262a"/>
<rect x="27" y="19.6" width="3" height="0.8" fill="#55555a"/><rect x="33" y="19.6" width="6" height="0.8" fill="#55555a"/><rect x="44" y="19.6" width="2.4" height="0.8" fill="#55555a"/>
<rect x="31" y="2.6" width="7" height="1.7" fill="#c4c4c4"/>
<!-- red V -->
<path d="M22.2,23.5 L36,31.4 L49.2,23.5" fill="none" stroke="#e0483c" stroke-width="2"/>
<path d="M22.8,23.6 L36,31.2 L48.8,23.6" fill="none" stroke="#f08a7a" stroke-width="0.6"/>
<!-- thin red right edge -->
<path d="M49.3,32 V86" stroke="#a83a2a" stroke-width="0.7"/>
<!-- red side stripe -->
<path d="M16.6,31.2 L20.2,30 L19.2,73 L15.6,72 Z" fill="#b02a24"/>
<path d="M16,34 H20 M16,37.6 H20 M16,41.2 H20 M16,44.8 H20 M16,48.4 H20 M16,52 H20 M16,55.6 H20 M16,59.2 H20 M15.6,62.8 H20 M15.6,66.4 H20 M15.6,70 H20" stroke="#4a100e" stroke-width="1"/>
<!-- bottom badge -->
<path d="M28.6,77.4 H41.4 L43.6,88 H25.6 Z" fill="#08080a" stroke="#8a7a70" stroke-width="0.7"/>
<rect x="32.6" y="82.4" width="5" height="1.3" fill="#ddd"/>
</g>
</defs>
<use href="#pc" x="367.3" y="519.8"/>
<use href="#pc" x="555.8" y="519.8"/>
</svg>
<div class="note"><span>Note:</span></div>
<p class="txt">There is no have power supply port,becuase the USB3.0 ports not only transfer the data,<br>but also supply the power to this KVM</p>
</body></html>
